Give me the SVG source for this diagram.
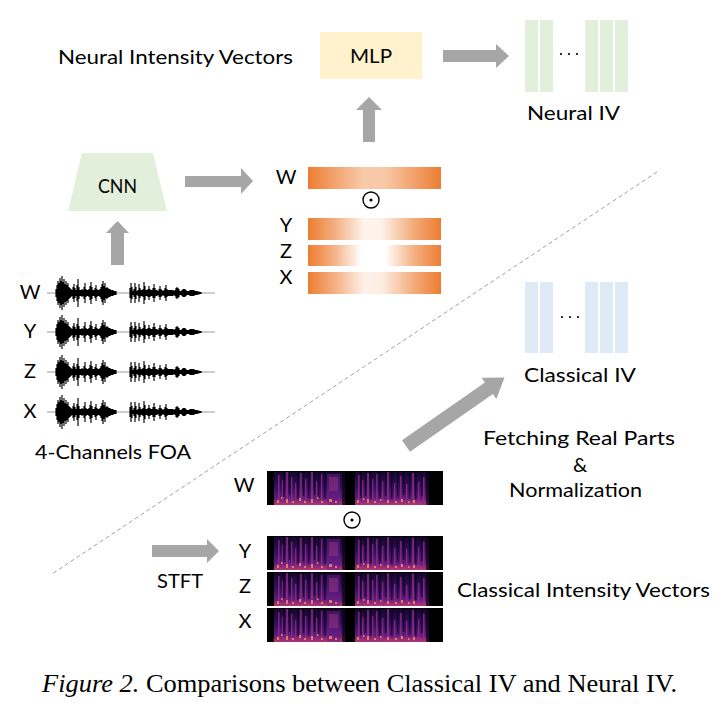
<svg xmlns="http://www.w3.org/2000/svg" width="723" height="713" viewBox="0 0 723 713">
<style>
.t{font-family:Lato,"Noto Sans","DejaVu Sans",sans-serif;font-size:20px;fill:#000}
.l{font-family:Lato,"Noto Sans","DejaVu Sans",sans-serif;font-size:20px;fill:#000;text-anchor:middle}
.arr{fill:#a6a6a6}
.ng{fill:#e2efda}
.cb{fill:#deebf7}
.dot{fill:#000}
.odot{fill:none;stroke:#000;stroke-width:1.4}
.cap{font-family:"Liberation Serif","Times New Roman",serif;font-size:26px;fill:#000}
.wave{fill:none;stroke:#000;stroke-width:1.15}
.base{stroke:#9a9a9a;stroke-width:1}
</style>
<defs>
<linearGradient id="ow" x1="0" y1="0" x2="1" y2="0">
<stop offset="0" stop-color="#ed7d31"/>
<stop offset="0.22" stop-color="#f3a774"/>
<stop offset="0.42" stop-color="#f8caa9"/>
<stop offset="0.58" stop-color="#f8c8a6"/>
<stop offset="0.8" stop-color="#f2a16b"/>
<stop offset="1" stop-color="#ed7d31"/>
</linearGradient>
<linearGradient id="oy" x1="0" y1="0" x2="1" y2="0">
<stop offset="0" stop-color="#ed7d31"/>
<stop offset="0.2" stop-color="#f4ae80"/>
<stop offset="0.42" stop-color="#fef4ed"/>
<stop offset="0.55" stop-color="#fef2ea"/>
<stop offset="0.8" stop-color="#f3aa78"/>
<stop offset="1" stop-color="#ed7d31"/>
</linearGradient>
<linearGradient id="oz" x1="0" y1="0" x2="1" y2="0">
<stop offset="0" stop-color="#ed7d31"/>
<stop offset="0.2" stop-color="#f5b386"/>
<stop offset="0.4" stop-color="#ffffff"/>
<stop offset="0.58" stop-color="#ffffff"/>
<stop offset="0.8" stop-color="#f4af80"/>
<stop offset="1" stop-color="#ed7d31"/>
</linearGradient>
<linearGradient id="ox" x1="0" y1="0" x2="1" y2="0">
<stop offset="0" stop-color="#ed7d31"/>
<stop offset="0.2" stop-color="#f5b083"/>
<stop offset="0.42" stop-color="#fdf0e7"/>
<stop offset="0.55" stop-color="#fdeee4"/>
<stop offset="0.8" stop-color="#f3ab7a"/>
<stop offset="1" stop-color="#ed7d31"/>
</linearGradient>
<linearGradient id="sg" x1="0" y1="0" x2="0" y2="1">
<stop offset="0" stop-color="#16072f"/>
<stop offset="0.45" stop-color="#330e60"/>
<stop offset="0.8" stop-color="#621c7d"/>
<stop offset="1" stop-color="#b8386f"/>
</linearGradient>
<symbol id="wave" overflow="visible">
<line class="base" x1="47" y1="0" x2="215" y2="0"/>
<path class="wave" d="M56 -4V4M57 -8V8M58 -12V12M59 -10V10M60 -15V15M61 -12V12M62 -17V17M63 -11V11M64 -14V14M65 -9V9M66 -12V12M67 -8V8M68 -10V10M69 -6V6M70 -5V5M71 -4V4M72 -3V3M73 -6V6M74 -9V9M75 -5V5M76 -3V3M77 -8V8M78 -14V14M79 -6V6M80 -3V3M81 -3V3M82 -4V4M83 -3V3M84 -6V6M85 -10V10M86 -4V4M87 -3V3M88 -3V3M89 -4V4M90 -7V7M91 -11V11M92 -6V6M93 -3V3M94 -3V3M95 -5V5M96 -8V8M97 -4V4M98 -3V3M99 -3V3M100 -4V4M101 -6V6M102 -9V9M103 -12V12M104 -7V7M105 -10V10M106 -5V5M107 -6V6M108 -5V5M109 -4V4M110 -4V4M111 -3V3M112 -3V3M113 -3V3M114 -2V2M115 -2V2M116 -2V2M130 -5V5M131 -10V10M132 -6V6M133 -2V2M134 -4V4M135 -10V10M136 -6V6M137 -2V2M138 -3V3M139 -9V9M140 -5V5M141 -3V3M142 -3V3M143 -4V4M144 -11V11M145 -7V7M146 -3V3M147 -3V3M148 -4V4M149 -7V7M150 -4V4M151 -3V3M152 -3V3M153 -5V5M154 -9V9M155 -5V5M156 -3V3M157 -3V3M158 -2V2M159 -4V4M160 -7V7M161 -4V4M162 -3V3M163 -2V2M164 -3V3M165 -5V5M166 -8V8M167 -4V4M168 -3V3M169 -3V3M170 -3V3M171 -3V3M172 -3V3M173 -3V3M174 -2V2M175 -3V3M176 -5V5M177 -6V6M178 -5V5M179 -4V4M180 -2V2M181 -2V2M182 -3V3M183 -4V4M184 -4V4M185 -4V4M186 -3V3M187 -2V2M188 -2V2M189 -2V2M190 -3V3M191 -3V3M192 -3V3M193 -3V3M194 -3V3M195 -2V2M196 -2V2M197 -2V2M198 -1.5V1.5M199 -1.5V1.5M200 -1V1M201 -1V1"/>
</symbol>
<symbol id="spec" overflow="visible">
<rect x="0" y="0" width="176" height="34" fill="#000"/>
<rect x="7" y="1" width="71" height="33" fill="url(#sg)"/>
<rect x="88" y="1" width="74" height="33" fill="url(#sg)"/>
<rect x="60" y="3" width="13" height="31" fill="#6a1f84" opacity="0.5"/>
<rect x="62" y="6" width="9" height="14" fill="#a23a86" opacity="0.45"/>
<g fill="#9c2e88" opacity="0.7">
<rect x="11" y="4" width="1.6" height="30"/><rect x="15" y="9" width="1.4" height="25"/><rect x="19" y="1" width="2" height="33"/><rect x="24" y="6" width="1.4" height="28"/><rect x="28" y="12" width="1.4" height="22"/><rect x="33" y="2" width="1.8" height="32"/><rect x="38" y="8" width="1.4" height="26"/><rect x="44" y="1" width="2" height="33"/><rect x="49" y="10" width="1.4" height="24"/><rect x="54" y="3" width="1.4" height="31"/>
<rect x="91" y="4" width="1.6" height="30"/><rect x="95" y="9" width="1.4" height="25"/><rect x="100" y="2" width="2" height="32"/><rect x="105" y="8" width="1.4" height="26"/><rect x="109" y="3" width="1.6" height="31"/><rect x="115" y="10" width="1.4" height="24"/><rect x="120" y="1" width="2" height="33"/><rect x="127" y="12" width="1.4" height="22"/><rect x="133" y="5" width="1.6" height="29"/><rect x="139" y="13" width="1.4" height="21"/><rect x="145" y="2" width="2" height="32"/><rect x="151" y="11" width="1.4" height="23"/><rect x="156" y="6" width="1.6" height="28"/>
</g>
<g fill="#080210" opacity="0.7">
<rect x="16" y="0" width="1.4" height="26"/><rect x="22" y="0" width="1.2" height="24"/><rect x="30" y="0" width="1.5" height="28"/><rect x="36" y="0" width="1.2" height="25"/><rect x="41" y="0" width="1.4" height="27"/><rect x="47" y="0" width="1.2" height="24"/><rect x="51" y="0" width="1.2" height="27"/><rect x="57" y="0" width="1.4" height="28"/><rect x="75" y="0" width="3" height="34"/>
<rect x="93" y="0" width="1.4" height="27"/><rect x="98" y="0" width="1.2" height="25"/><rect x="103" y="0" width="1.4" height="28"/><rect x="112" y="0" width="1.6" height="27"/><rect x="118" y="0" width="1.2" height="25"/><rect x="124" y="0" width="1.4" height="28"/><rect x="130" y="0" width="1.2" height="26"/><rect x="136" y="0" width="1.4" height="24"/><rect x="142" y="0" width="1.2" height="27"/><rect x="148" y="0" width="1.4" height="28"/><rect x="154" y="0" width="1.2" height="25"/><rect x="159" y="0" width="3" height="34"/>
</g>
<g fill="#f58a62" opacity="0.85">
<rect x="10" y="29" width="2" height="3"/><rect x="14" y="26" width="1.5" height="2"/><rect x="19" y="28" width="2" height="4"/><rect x="25" y="30" width="2" height="2"/><rect x="32" y="27" width="2" height="3"/><rect x="37" y="30" width="2" height="2"/><rect x="44" y="28" width="2" height="4"/><rect x="50" y="26" width="1.5" height="2"/><rect x="54" y="30" width="2" height="2"/><rect x="62" y="28" width="3" height="3"/><rect x="68" y="30" width="2" height="2"/>
<rect x="90" y="29" width="2" height="3"/><rect x="96" y="27" width="1.5" height="2"/><rect x="100" y="28" width="2" height="4"/><rect x="107" y="30" width="2" height="2"/><rect x="113" y="28" width="1.5" height="2"/><rect x="120" y="29" width="2" height="3"/><rect x="128" y="30" width="2" height="2"/><rect x="134" y="28" width="2" height="3"/><rect x="141" y="30" width="1.5" height="2"/><rect x="146" y="29" width="2" height="3"/>
</g>
</symbol>
</defs>
<rect width="723" height="713" fill="#fff"/>

<g id="connectors">
<line x1="657" y1="172" x2="52" y2="574" stroke="#a0a0a0" stroke-width="1" stroke-dasharray="4 3"/>
<polygon class="arr" points="443,50 496,50 496,44 509,56 496,68 496,62 443,62"/>
<polygon class="arr" points="363,142 363,110 356,110 369,97 382,110 375,110 375,142"/>
<polygon class="arr" points="185,176 241,176 241,168 253,181 241,194 241,187 185,187"/>
<polygon class="arr" points="111,265 111,233 106,233 117.5,221 129,233 124,233 124,265"/>
<polygon class="arr" points="152,545 207,545 207,539 219,551 207,563 207,557 152,557"/>
<polygon class="arr" transform="translate(406 446) rotate(-34.8)" points="0,-7 101,-7 101,-13 120,0 101,13 101,7 0,7"/>
</g>

<g id="title-neural">
<text class="t" x="58" y="64" textLength="235" lengthAdjust="spacingAndGlyphs">Neural Intensity Vectors</text>
</g>

<g id="mlp">
<rect x="320" y="32" width="102" height="47" fill="#fff2cc"/>
<text class="t" x="350" y="63" textLength="42" lengthAdjust="spacingAndGlyphs">MLP</text>
</g>

<g id="neural-iv">
<rect class="ng" x="525" y="20" width="13" height="72"/>
<rect class="ng" x="540" y="20" width="13" height="72"/>
<rect class="ng" x="585" y="20" width="13" height="72"/>
<rect class="ng" x="600" y="20" width="13" height="72"/>
<rect class="ng" x="615" y="20" width="13" height="72"/>
<circle class="dot" cx="561" cy="54" r="1.1"/><circle class="dot" cx="569" cy="54" r="1.1"/><circle class="dot" cx="577" cy="54" r="1.1"/>
<text class="t" x="527" y="120" textLength="93" lengthAdjust="spacingAndGlyphs">Neural IV</text>
</g>

<g id="cnn">
<polygon class="ng" points="82,153 153,153 167,211 68,211"/>
<text class="t" x="98" y="193" textLength="39" lengthAdjust="spacingAndGlyphs">CNN</text>
</g>

<g id="neural-vectors">
<rect x="308" y="167" width="133" height="22" fill="url(#ow)"/>
<rect x="308" y="218" width="133" height="22" fill="url(#oy)"/>
<rect x="308" y="245" width="133" height="21" fill="url(#oz)"/>
<rect x="308" y="272" width="133" height="22" fill="url(#ox)"/>
<text class="l" x="286" y="184">W</text>
<text class="l" x="286" y="232">Y</text>
<text class="l" x="286" y="258">Z</text>
<text class="l" x="286" y="284">X</text>
<circle class="odot" cx="371" cy="200" r="8"/><circle class="dot" cx="371" cy="200" r="1.6"/>
</g>

<g id="foa">
<use href="#wave" y="293"/>
<use href="#wave" y="332"/>
<use href="#wave" y="372"/>
<use href="#wave" y="412"/>
<text class="l" x="30" y="299">W</text>
<text class="l" x="30" y="338">Y</text>
<text class="l" x="30" y="378">Z</text>
<text class="l" x="30" y="418">X</text>
<text class="t" x="35" y="459" textLength="156" lengthAdjust="spacingAndGlyphs">4-Channels FOA</text>
</g>

<g id="classical-iv">
<rect class="cb" x="525" y="282" width="13" height="71"/>
<rect class="cb" x="540" y="282" width="13" height="71"/>
<rect class="cb" x="585" y="282" width="13" height="71"/>
<rect class="cb" x="600" y="282" width="13" height="71"/>
<rect class="cb" x="615" y="282" width="13" height="71"/>
<circle class="dot" cx="562" cy="317" r="1.1"/><circle class="dot" cx="570" cy="317" r="1.1"/><circle class="dot" cx="578" cy="317" r="1.1"/>
<text class="t" x="524" y="382" textLength="112" lengthAdjust="spacingAndGlyphs">Classical IV</text>
</g>

<g id="fetch-label">
<text class="t" x="483" y="445" textLength="192" lengthAdjust="spacingAndGlyphs">Fetching Real Parts</text>
<text class="l" x="580" y="472">&amp;</text>
<text class="t" x="509" y="497" textLength="133" lengthAdjust="spacingAndGlyphs">Normalization</text>
</g>

<g id="stft">
<text class="t" x="157" y="588" textLength="46" lengthAdjust="spacingAndGlyphs">STFT</text>
</g>

<g id="classical-vectors">
<use href="#spec" x="267" y="471"/>
<use href="#spec" x="267" y="536"/>
<use href="#spec" x="267" y="572"/>
<use href="#spec" x="267" y="608"/>
<text class="l" x="244" y="492">W</text>
<text class="l" x="245" y="558">Y</text>
<text class="l" x="245" y="593">Z</text>
<text class="l" x="245" y="628">X</text>
<circle class="odot" cx="352" cy="520" r="8"/><circle class="dot" cx="352" cy="520" r="1.6"/>
<text class="t" x="457" y="597" textLength="253" lengthAdjust="spacingAndGlyphs">Classical Intensity Vectors</text>
</g>

<g id="caption">
<text class="cap" x="42" y="692" textLength="635" lengthAdjust="spacingAndGlyphs"><tspan font-style="italic">Figure 2.</tspan> Comparisons between Classical IV and Neural IV.</text>
</g>
</svg>
